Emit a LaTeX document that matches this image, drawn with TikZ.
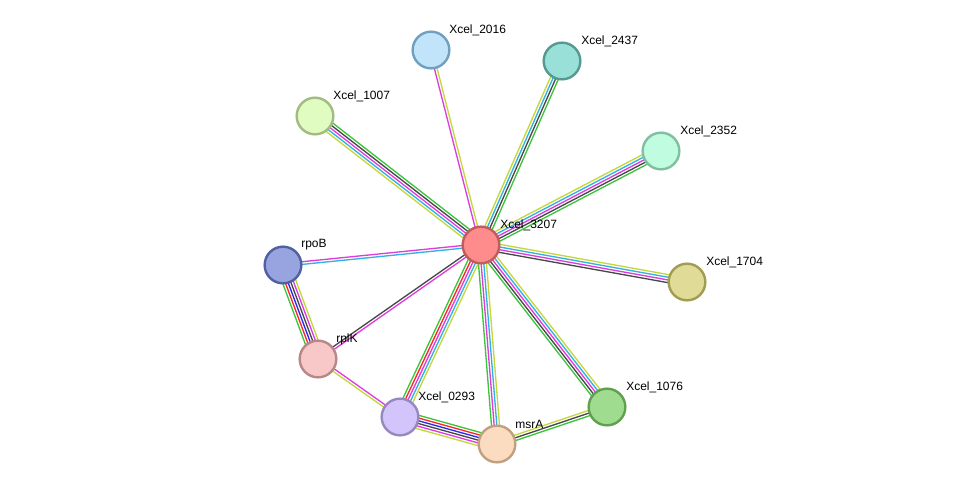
\documentclass[tikz,border=0pt]{standalone}
\usepackage{fontspec}
\setmainfont{Liberation Sans}
\usetikzlibrary{calc,backgrounds}
\definecolor{egrn}{RGB}{60,196,60}
\definecolor{ered}{RGB}{250,40,40}
\definecolor{eblu}{RGB}{40,40,240}
\definecolor{edgr}{RGB}{72,72,72}
\definecolor{emag}{RGB}{222,60,222}
\definecolor{ecya}{RGB}{50,178,222}
\definecolor{eyel}{RGB}{196,216,60}
\newcommand\stredge[4]{%
  \foreach \col [count=\i] in {#4} {%
    \pgfmathsetmacro\off{((#3+1)/2-\i)*2.0}%
    \draw[\col, line width=1pt] ($(#1)!\off pt!90:(#2)$) -- ($(#2)!\off pt!-90:(#1)$);
  }%
}
\tikzset{
  prot/.style={circle, minimum size=27.5pt, inner sep=0pt, line width=1.8pt},
  lbl/.style={anchor=west, inner sep=0pt, font=\fontsize{9}{10}\selectfont, text=black}
}
\begin{document}
\begin{tikzpicture}[x=0.75pt, y=-0.75pt]
\useasboundingbox (0,0) rectangle (975,490);
\node[prot, fill={rgb,255:red,255;green,140;blue,140}, draw={rgb,255:red,192;green,92;blue,92}] (n3207) at (481,245) {};
\node[prot, fill={rgb,255:red,194;green,228;blue,250}, draw={rgb,255:red,112;green,160;blue,192}] (n2016) at (431,50) {};
\node[prot, fill={rgb,255:red,152;green,224;blue,216}, draw={rgb,255:red,88;green,152;blue,146}] (n2437) at (562,61) {};
\node[prot, fill={rgb,255:red,224;green,252;blue,192}, draw={rgb,255:red,160;green,188;blue,128}] (n1007) at (315,116) {};
\node[prot, fill={rgb,255:red,192;green,252;blue,224}, draw={rgb,255:red,128;green,192;blue,160}] (n2352) at (661,151) {};
\node[prot, fill={rgb,255:red,224;green,220;blue,152}, draw={rgb,255:red,160;green,156;blue,80}] (n1704) at (687,282) {};
\node[prot, fill={rgb,255:red,152;green,164;blue,224}, draw={rgb,255:red,80;green,96;blue,160}] (rpoB) at (283,265) {};
\node[prot, fill={rgb,255:red,248;green,200;blue,200}, draw={rgb,255:red,184;green,136;blue,136}] (rplK) at (318,359) {};
\node[prot, fill={rgb,255:red,212;green,196;blue,252}, draw={rgb,255:red,152;green,136;blue,192}] (n0293) at (400,417) {};
\node[prot, fill={rgb,255:red,252;green,220;blue,192}, draw={rgb,255:red,192;green,160;blue,128}] (msrA) at (497,444) {};
\node[prot, fill={rgb,255:red,160;green,220;blue,144}, draw={rgb,255:red,96;green,160;blue,80}] (n1076) at (607,407) {};

\node[lbl] (l3207) at ($(n3207)+(19,-20)$) {Xcel\_3207};
\node[lbl] (l2016) at ($(n2016)+(18,-20)$) {Xcel\_2016};
\node[lbl] (l2437) at ($(n2437)+(19,-20)$) {Xcel\_2437};
\node[lbl] (l1007) at ($(n1007)+(18,-20)$) {Xcel\_1007};
\node[lbl] (l2352) at ($(n2352)+(19,-20)$) {Xcel\_2352};
\node[lbl] (l1704) at ($(n1704)+(19,-20)$) {Xcel\_1704};
\node[lbl] (lrpoB) at ($(rpoB)+(18,-20)$) {rpoB};
\node[lbl] (lrplK) at ($(rplK)+(18,-20)$) {rplK};
\node[lbl] (l0293) at ($(n0293)+(18,-20)$) {Xcel\_0293};
\node[lbl] (lmsrA) at ($(msrA)+(18,-20)$) {msrA};
\node[lbl] (l1076) at ($(n1076)+(19,-20)$) {Xcel\_1076};

\begin{scope}[on background layer]
\fill[white] (0,0) rectangle (975,490);
\stredge{n3207}{n2016}{2}{emag,eyel}
\stredge{n3207}{n2437}{4}{eyel,ecya,edgr,egrn}
\stredge{n3207}{n2352}{5}{eyel,ecya,emag,edgr,egrn}
\stredge{n3207}{n1704}{4}{eyel,ecya,emag,edgr}
\stredge{n3207}{n1076}{5}{eyel,ecya,emag,edgr,egrn}
\stredge{n3207}{msrA}{4}{eyel,ecya,emag,egrn}
\stredge{n3207}{n0293}{5}{eyel,ecya,emag,ered,egrn}
\stredge{n3207}{rplK}{2}{emag,edgr}
\stredge{n3207}{rpoB}{2}{ecya,emag}
\stredge{n3207}{n1007}{5}{eyel,ecya,emag,edgr,egrn}
\stredge{rpoB}{rplK}{6}{eyel,emag,edgr,eblu,ered,egrn}
\stredge{rplK}{n0293}{2}{emag,eyel}
\stredge{n0293}{msrA}{6}{egrn,ered,eblu,edgr,emag,eyel}
\stredge{msrA}{n1076}{3}{eyel,edgr,egrn}
\end{scope}
\end{tikzpicture}
\end{document}
